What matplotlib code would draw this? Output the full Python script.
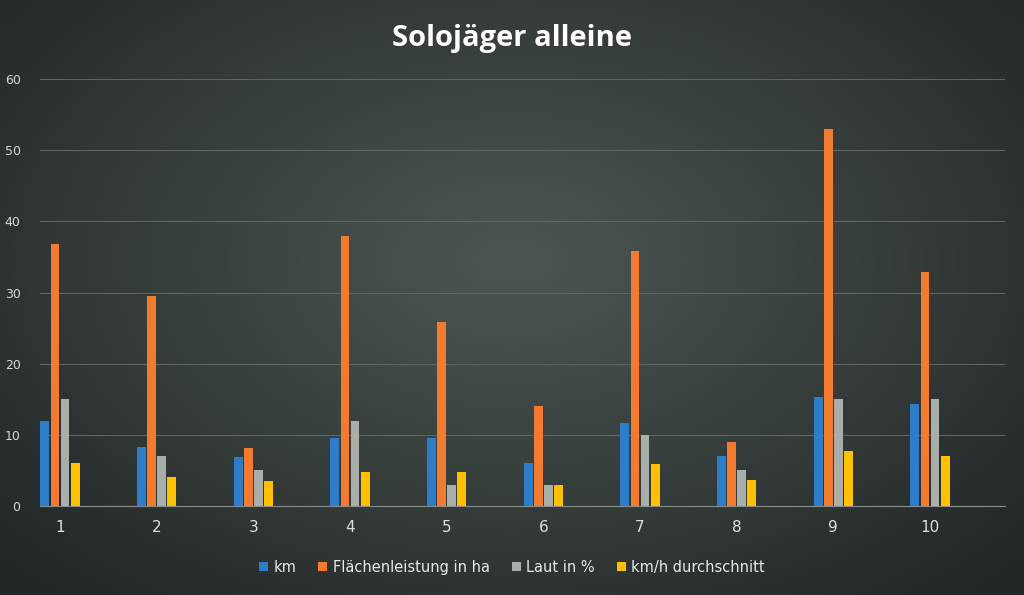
import matplotlib
matplotlib.use("Agg")
import matplotlib.pyplot as plt
import numpy as np

categories = [1, 2, 3, 4, 5, 6, 7, 8, 9, 10]
km = [11.9, 8.3, 6.9, 9.5, 9.5, 6.0, 11.7, 7.0, 15.3, 14.3]
flaeche = [36.8, 29.5, 8.1, 37.9, 25.8, 14.0, 35.8, 9.0, 53.0, 32.9]
laut = [15, 7, 5, 12, 3, 3, 10, 5, 15, 15]
kmh = [6.0, 4.1, 3.5, 4.8, 4.8, 3.0, 5.9, 3.6, 7.7, 7.0]
series = [("km", km, "#2e7dc9"), ("Flächenleistung in ha", flaeche, "#f27b2f"),
          ("Laut in %", laut, "#a9aea8"), ("km/h durchschnitt", kmh, "#ffc000")]

fig = plt.figure(figsize=(10.24, 5.95), dpi=100)
bg = fig.add_axes([0, 0, 1, 1])
yy, xx = np.mgrid[0:595, 0:1024]
r = np.sqrt(((xx - 512) / 700) ** 2 + ((yy - 260) / 450) ** 2)
r = np.clip(r, 0, 1)
c0 = np.array([0.30, 0.34, 0.32]); c1 = np.array([0.13, 0.15, 0.15])
img = c0[None, None, :] * (1 - r[..., None]) + c1[None, None, :] * r[..., None]
bg.imshow(img, aspect="auto")
bg.axis("off")

ax = fig.add_axes([40/1024, 1-506/595, 965/1024, (506-79)/595])
ax.patch.set_alpha(0)
x = np.array(categories, dtype=float)
w = 0.092
off = [-1.5, -0.5, 0.5, 1.5]
for (name, vals, col), o in zip(series, off):
    ax.bar(x + o * 0.104, vals, width=w, color=col, label=name, zorder=3)
ax.set_xlim(1 - 20/96.7, 10 + 75/96.7)
ax.set_ylim(0, 60)
ax.set_yticks(range(0, 61, 10))
ax.set_xticks(categories)
ax.grid(axis="y", color="#5f6562", linewidth=0.8, zorder=0)
for s in ["top", "right", "left"]:
    ax.spines[s].set_visible(False)
ax.spines["bottom"].set_color("#8a8f8c")
ax.tick_params(axis="y", length=0, colors="#d8d8d8", labelsize=9, pad=14)
ax.tick_params(axis="x", length=0, colors="#e0e0e0", labelsize=11, pad=10)
fig.text(0.5, 0.935, "Solojäger alleine", ha="center", va="center",
         color="white", fontsize=21, fontweight="bold", family="Open Sans")
fig.legend(loc="center", bbox_to_anchor=(0.5, 0.047), ncol=4, frameon=False,
           labelcolor="#e8e8e8", fontsize=10.5, handlelength=0.6, handleheight=0.6,
           columnspacing=1.5, handletextpad=0.4)
fig.savefig("out.png", dpi=100)
